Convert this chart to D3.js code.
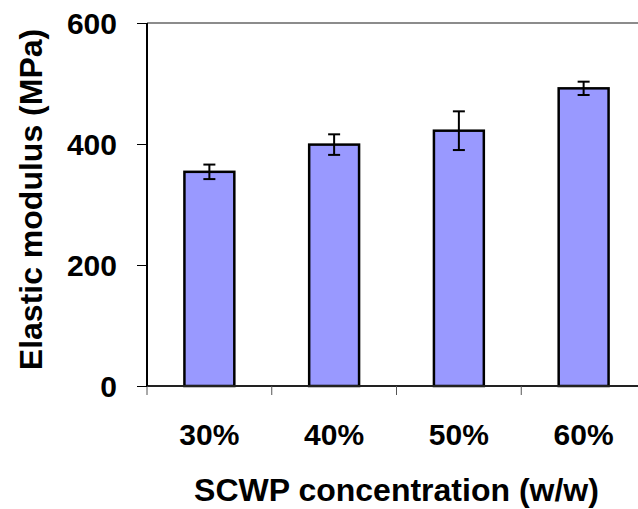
<!DOCTYPE html>
<html>
<head>
<meta charset="utf-8">
<script src="https://cdn.jsdelivr.net/npm/d3@7"></script>
<style>
  html, body { margin: 0; padding: 0; background: #fff; overflow: hidden; }
  svg text { font-family: "Liberation Sans", Arial, sans-serif; font-weight: bold; fill: #000; }
</style>
</head>
<body>
<div id="chart"></div>
<script>
// Chart data
const categories = ['30%', '40%', '50%', '60%'];
const modulus = [354, 399, 422, 492];
const modulusErr = [12, 17, 32, 11];
const yTicks = [0, 200, 400, 600];

const width = 638;
const height = 509;
const margin = { top: 23, right: -8, bottom: 123, left: 147 };
const innerWidth = width - margin.left - margin.right;
const innerHeight = height - margin.top - margin.bottom;

const svg = d3.select('#chart')
  .append('svg')
  .attr('width', width)
  .attr('height', height)
  .style('display', 'block');

const g = svg.append('g')
  .attr('transform', `translate(${margin.left},${margin.top})`);

// Scales
const x = d3.scaleBand()
  .domain(categories)
  .range([0, innerWidth])
  .paddingInner(0.6)
  .paddingOuter(0.3);

const y = d3.scaleLinear()
  .domain([0, 600])
  .range([innerHeight, 0]);

// Plot area border (top)
g.append('line')
  .attr('x1', 0)
  .attr('x2', innerWidth)
  .attr('y1', y(600))
  .attr('y2', y(600))
  .attr('stroke', '#8c8c8c')
  .attr('stroke-width', 2);

// Bars
g.selectAll('.bar')
  .data(categories)
  .enter()
  .append('rect')
  .attr('class', 'bar')
  .attr('x', d => x(d))
  .attr('y', (d, i) => y(modulus[i]))
  .attr('width', x.bandwidth())
  .attr('height', (d, i) => innerHeight - y(modulus[i]))
  .attr('fill', '#9999ff')
  .attr('stroke', '#000')
  .attr('stroke-width', 2.5);

// Error bars
const capHalf = 6;
const errs = g.selectAll('.err')
  .data(categories)
  .enter()
  .append('g')
  .attr('class', 'err')
  .attr('transform', d => `translate(${x(d) + x.bandwidth() / 2},0)`);

errs.append('line')
  .attr('y1', (d, i) => y(modulus[i] + modulusErr[i]))
  .attr('y2', (d, i) => y(modulus[i] - modulusErr[i]))
  .attr('stroke', '#000')
  .attr('stroke-width', 2);

errs.append('line')
  .attr('x1', -capHalf)
  .attr('x2', capHalf)
  .attr('y1', (d, i) => y(modulus[i] + modulusErr[i]))
  .attr('y2', (d, i) => y(modulus[i] + modulusErr[i]))
  .attr('stroke', '#000')
  .attr('stroke-width', 2);

errs.append('line')
  .attr('x1', -capHalf)
  .attr('x2', capHalf)
  .attr('y1', (d, i) => y(modulus[i] - modulusErr[i]))
  .attr('y2', (d, i) => y(modulus[i] - modulusErr[i]))
  .attr('stroke', '#000')
  .attr('stroke-width', 2);

// X axis: ticks sit on category boundaries
const xEdge = d3.scaleLinear()
  .domain([0, categories.length])
  .range([0, innerWidth]);

const xAxis = g.append('g')
  .attr('class', 'x-axis')
  .attr('transform', `translate(0,${innerHeight})`);

xAxis.append('line')
  .attr('x1', 0)
  .attr('x2', innerWidth)
  .attr('stroke', '#222')
  .attr('stroke-width', 2);

xAxis.selectAll('.tick')
  .data(d3.range(categories.length + 1))
  .enter()
  .append('line')
  .attr('class', 'tick')
  .attr('x1', d => xEdge(d))
  .attr('x2', d => xEdge(d))
  .attr('y1', 0)
  .attr('y2', 9)
  .attr('stroke', '#555')
  .attr('stroke-width', 1);

xAxis.selectAll('.label')
  .data(categories)
  .enter()
  .append('text')
  .attr('class', 'label')
  .attr('x', d => x(d) + x.bandwidth() / 2)
  .attr('y', 59)
  .attr('text-anchor', 'middle')
  .style('font-size', '30px')
  .text(d => d);

// Y axis
const yAxis = g.append('g')
  .attr('class', 'y-axis')
  .call(d3.axisLeft(y).tickValues(yTicks).tickSize(10).tickPadding(20).tickFormat(d3.format('d')));

yAxis.select('.domain')
  .attr('d', `M0,${y(600)}V${y(0)}`)
  .attr('stroke', '#000')
  .attr('stroke-width', 2);

yAxis.selectAll('.tick line')
  .attr('stroke', '#000')
  .attr('stroke-width', 1);

yAxis.selectAll('.tick text')
  .attr('font-family', null)
  .attr('dy', '0.36em')
  .style('font-size', '30px');

// Axis titles
svg.append('text')
  .attr('x', margin.left + innerWidth / 2)
  .attr('y', 501)
  .attr('text-anchor', 'middle')
  .style('font-size', '32px')
  .text('SCWP concentration (w/w)');

svg.append('text')
  .attr('transform', `translate(42,${margin.top + innerHeight / 2 - 5}) rotate(-90)`)
  .attr('text-anchor', 'middle')
  .style('font-size', '32px')
  .text('Elastic modulus (MPa)');
</script>
</body>
</html>
